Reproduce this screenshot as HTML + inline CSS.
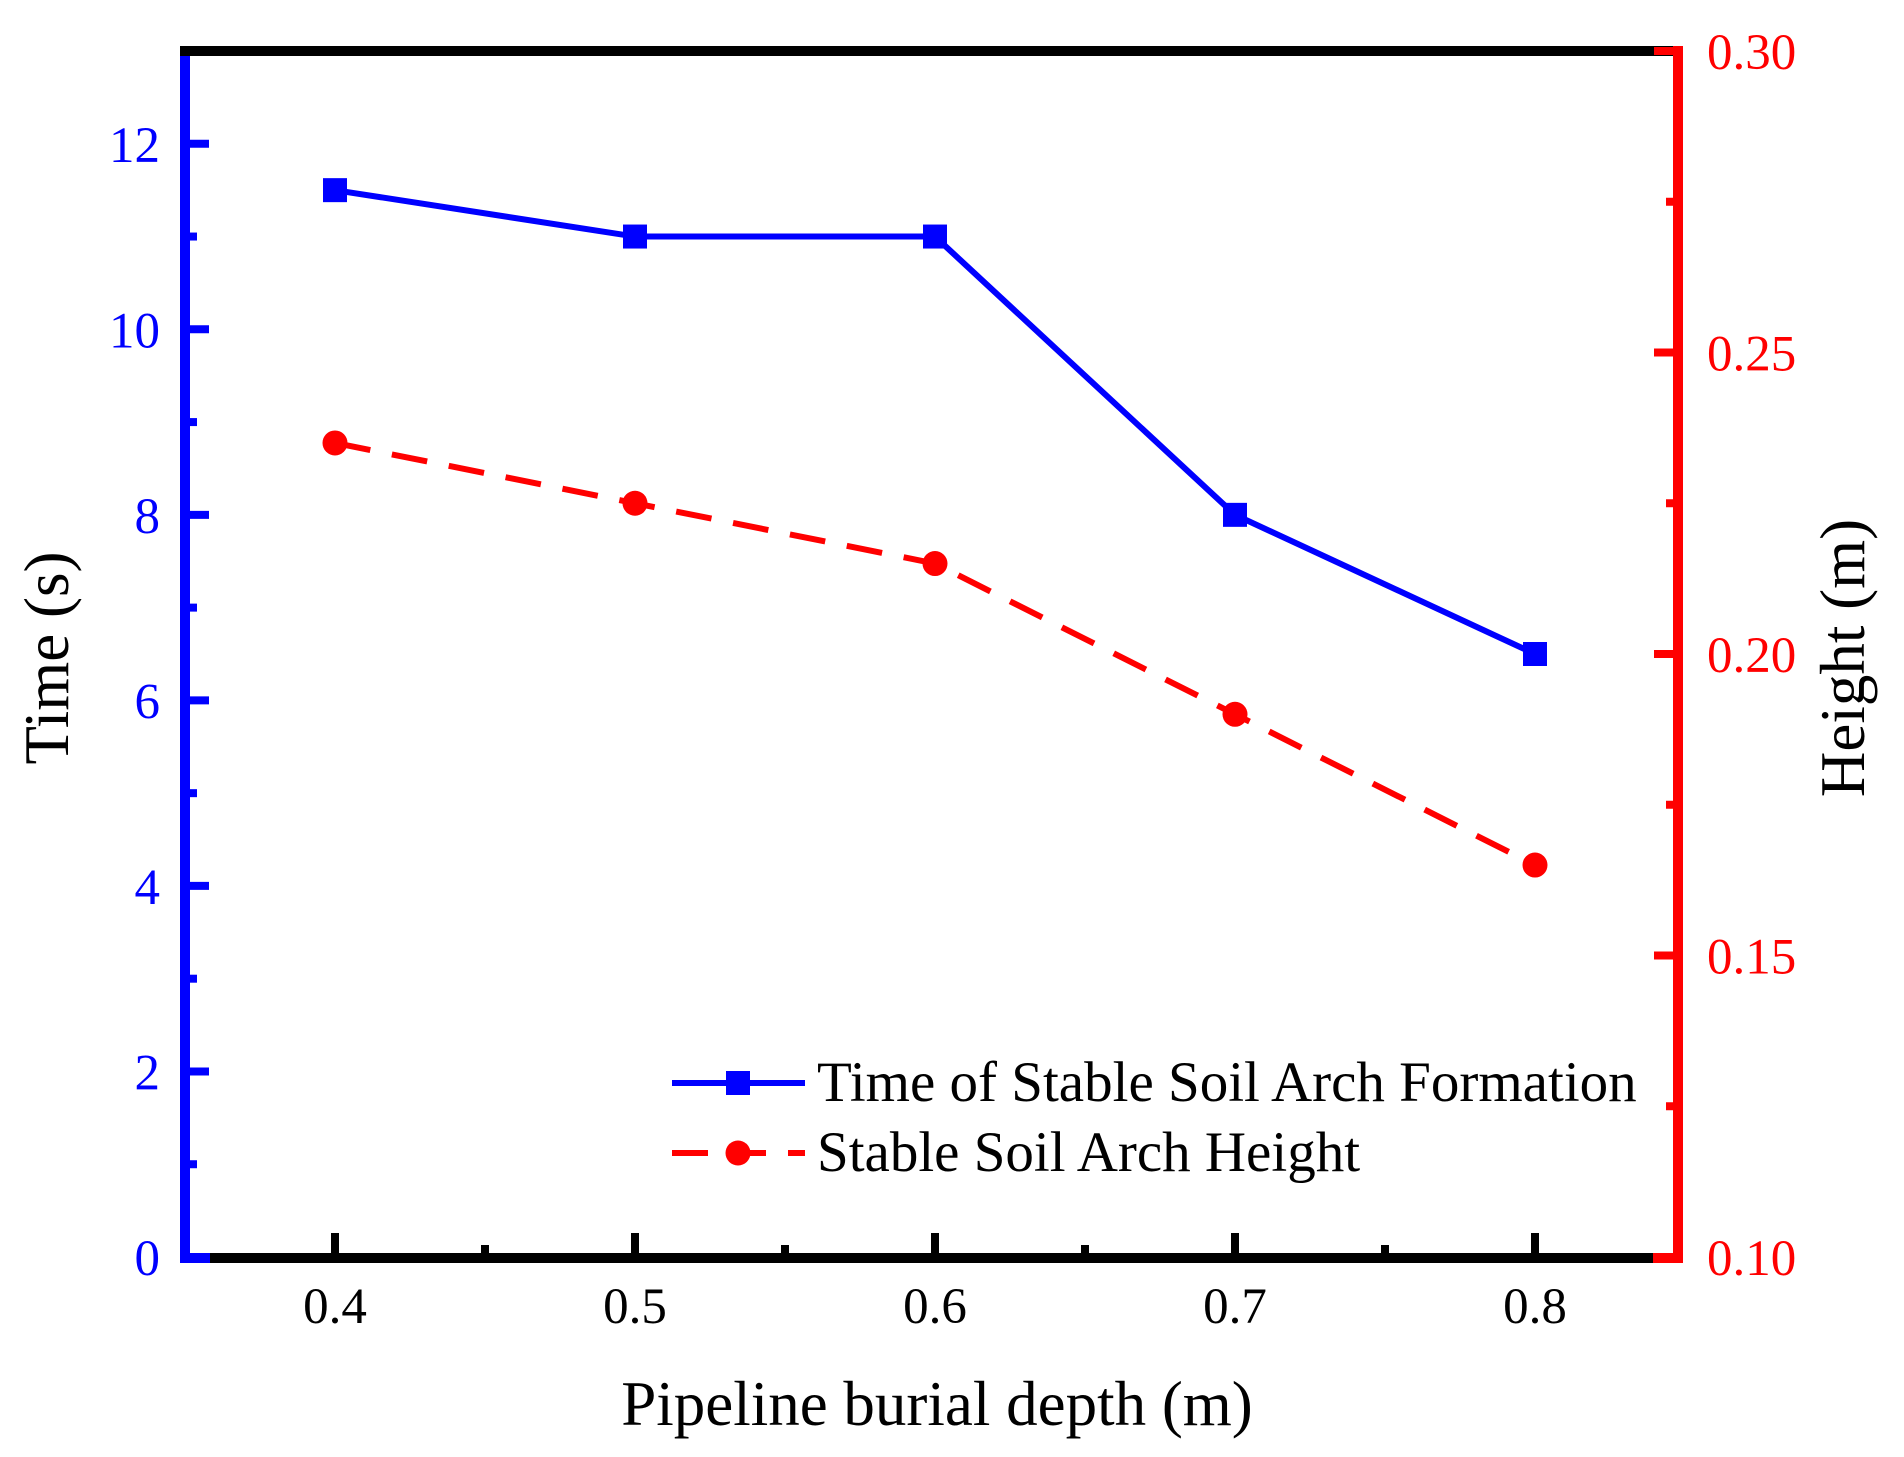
<!DOCTYPE html>
<html><head><meta charset="utf-8"><style>
html,body{margin:0;padding:0;background:#fff}
svg{display:block}
text{font-family:"Liberation Serif",serif}
</style></head><body>
<svg id="chart" width="1904" height="1457" viewBox="0 0 1904 1457" xmlns="http://www.w3.org/2000/svg"></svg>
<script>
const categories=[0.4,0.5,0.6,0.7,0.8];
const timeValues=[11.5,11,11,8,6.5];
const heightValues=[0.235,0.225,0.215,0.19,0.165];
const xTickLabels=["0.4","0.5","0.6","0.7","0.8"];
const leftTickLabels=["0","2","4","6","8","10","12"];
const rightTickLabels=["0.10","0.15","0.20","0.25","0.30"];

const NS="http://www.w3.org/2000/svg";
const svg=document.getElementById('chart');
const L=185,R=1678,T=51,B=1257;
const X0=335,X1=1535;
function xs(v){return X0+(v-0.4)/(0.8-0.4)*(X1-X0);}
function yl(v){return B-(v/13)*(B-T);}
function yr(v){return B-((v-0.1)/0.2)*(B-T);}
function mk(tag,attrs,parent){const e=document.createElementNS(NS,tag);for(const k in attrs)e.setAttribute(k,attrs[k]);(parent||svg).appendChild(e);return e;}

const g1=mk('g',{});


mk('polyline',{points:categories.map((c,i)=>xs(c)+','+yl(timeValues[i])).join(' '),fill:'none',stroke:'#0000ff','stroke-width':6},g1);
categories.forEach((c,i)=>{const r=mk('rect',{x:xs(c)-12,y:yl(timeValues[i])-12,width:24,height:24,fill:'#0000ff'},g1);

});
const g2=mk('g',{});


mk('polyline',{points:categories.map((c,i)=>xs(c)+','+yr(heightValues[i])).join(' '),fill:'none',stroke:'#ff0000','stroke-width':6,'stroke-dasharray':'36 22'},g2);
categories.forEach((c,i)=>{const r=mk('circle',{cx:xs(c),cy:yr(heightValues[i]),r:12.5,fill:'#ff0000'},g2);

});

const topAxis=mk('line',{x1:L-5,y1:T,x2:R,y2:T,stroke:'#000','stroke-width':10});


const botAxis=mk('line',{x1:L,y1:B+1,x2:R,y2:B+1,stroke:'#000','stroke-width':10});


mk('line',{x1:L-5,y1:B+1,x2:L+25,y2:B+1,stroke:'#0000ff','stroke-width':10});
mk('line',{x1:R-25,y1:B+1,x2:R+5,y2:B+1,stroke:'#ff0000','stroke-width':10});
const leftAxis=mk('line',{x1:L,y1:T+5,x2:L,y2:B+6,stroke:'#0000ff','stroke-width':10});


const rightAxis=mk('line',{x1:R,y1:T-5,x2:R,y2:B+6,stroke:'#ff0000','stroke-width':10});



xTickLabels.forEach((t,i)=>{const x=xs(categories[i]);
mk('line',{x1:x,y1:B-4,x2:x,y2:B-24,stroke:'#000','stroke-width':8});
if(i<4){const xm=xs(categories[i]+0.05);mk('line',{x1:xm,y1:B-4,x2:xm,y2:B-12,stroke:'#000','stroke-width':8});}
const e=mk('text',{x:x,y:1323,'text-anchor':'middle','font-size':51,fill:'#000'});e.textContent=t;

});
leftTickLabels.forEach((t,i)=>{const v=+t,y=yl(v);
mk('line',{x1:L+4,y1:y,x2:L+24,y2:y,stroke:'#0000ff','stroke-width':8});
if(v<12){const ym=yl(v+1);mk('line',{x1:L+4,y1:ym,x2:L+12,y2:ym,stroke:'#0000ff','stroke-width':8});}
const e=mk('text',{x:160,y:y+18,'text-anchor':'end','font-size':51,fill:'#0000ff'});e.textContent=t;

});
rightTickLabels.forEach((t,i)=>{const v=+t,y=yr(v);
mk('line',{x1:R-4,y1:y,x2:R-24,y2:y,stroke:'#ff0000','stroke-width':8});
if(v<0.3){const ym=yr(v+0.025);mk('line',{x1:R-4,y1:ym,x2:R-12,y2:ym,stroke:'#ff0000','stroke-width':8});}
const e=mk('text',{x:1707,y:y+18,'font-size':51,fill:'#ff0000'});e.textContent=t;

});

const xt=mk('text',{x:937,y:1425,'text-anchor':'middle','font-size':63,fill:'#000'});xt.textContent='Pipeline burial depth (m)';


const ylt=mk('text',{x:0,y:0,'text-anchor':'middle','font-size':63,fill:'#000',transform:'translate(68,658) rotate(-90)'});ylt.textContent='Time (s)';


const yrt=mk('text',{x:0,y:0,'text-anchor':'middle','font-size':63,fill:'#000',transform:'translate(1864,658) rotate(-90)'});yrt.textContent='Height (m)';



const lg=mk('g',{});


mk('line',{x1:672,y1:1083,x2:805,y2:1083,stroke:'#0000ff','stroke-width':6},lg);
mk('rect',{x:726,y:1071,width:24,height:24,fill:'#0000ff'},lg);
const l1=mk('text',{x:817,y:1101,'font-size':57,fill:'#000'},lg);l1.textContent='Time of Stable Soil Arch Formation';


mk('line',{x1:672,y1:1153,x2:805,y2:1153,stroke:'#ff0000','stroke-width':6,'stroke-dasharray':'36 22'},lg);
mk('circle',{cx:738,cy:1153,r:12.5,fill:'#ff0000'},lg);
const l2=mk('text',{x:817,y:1171,'font-size':57,fill:'#000'},lg);l2.textContent='Stable Soil Arch Height';


</script>
</body></html>
